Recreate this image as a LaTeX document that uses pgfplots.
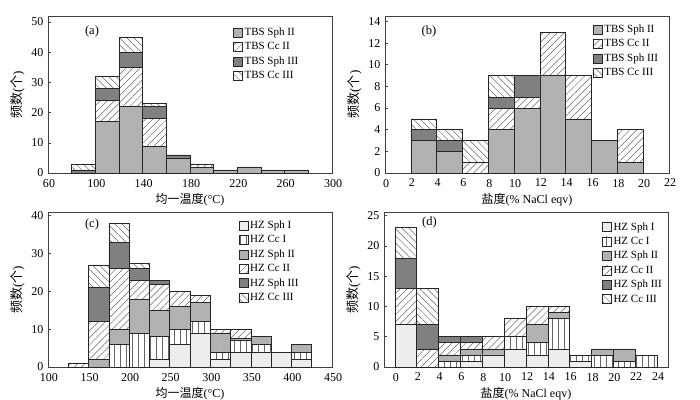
\documentclass[border=0pt]{standalone}
\usepackage{fontspec}
\setmainfont{Liberation Serif}
\newfontfamily\cjk{Noto Sans CJK SC}
\usepackage{pgfplots}
\pgfplotsset{compat=1.18}
\usetikzlibrary{patterns,patterns.meta}
\definecolor{sphI}{gray}{0.93}
\definecolor{sphII}{gray}{0.70}
\definecolor{sphIII}{gray}{0.50}
\definecolor{hatchc}{gray}{0.40}
\tikzset{
  sI/.style={fill=sphI,draw=black!85,line width=0.6pt},
  sII/.style={fill=sphII,draw=black!85,line width=0.6pt},
  sIII/.style={fill=sphIII,draw=black!85,line width=0.6pt},
  cI/.style={draw=black!85,line width=0.6pt,pattern={Lines[angle=90,distance=6pt,line width=0.5pt]},pattern color=hatchc},
  cII/.style={draw=black!85,line width=0.6pt,pattern={Lines[angle=45,distance=5pt,line width=0.5pt]},pattern color=hatchc},
  cIII/.style={draw=black!85,line width=0.6pt,pattern={Lines[angle=-45,distance=5pt,line width=0.5pt]},pattern color=hatchc},
}
\pgfplotsset{
  panel/.style={
    scale only axis, width=284pt, height=157pt,
    ybar stacked, ymin=0, enlargelimits=false,
    axis line style={black!75,line width=0.7pt},
    tick align=inside, tick pos=left,
    major tick length=3pt,
    every tick/.style={black!75,line width=0.6pt},
    tick label style={font=\fontsize{12}{13}\selectfont},
    x tick label style={yshift=-2.5pt,xshift=1pt},
    y tick label style={xshift=-1pt},
    xlabel style={font=\fontsize{12}{13}\selectfont,yshift=1pt},
    ylabel style={font=\fontsize{13}{14}\selectfont},
    /pgf/number format/assume math mode=true,
    legend cell align=left,
    legend style={draw=none,fill=none,anchor=north west,font=\fontsize{11}{12}\selectfont,row sep=1.5pt},
    legend image code/.code={\draw[##1] (0pt,-4.5pt) rectangle (9pt,4.5pt);},
    ylabel={{\cjk 频数}({\cjk 个})},
  }
}
\begin{document}
\begin{tikzpicture}
\path[use as bounding box] (0,0) rectangle (700pt,399pt);
% (a)
\begin{axis}[panel, at={(48pt,226pt)}, anchor=south west,
  bar width=20, xmin=60, xmax=300, xtick={60,100,140,180,220,260,300},
  ymax=52, ytick={0,10,20,30,40,50},
  xlabel={{\cjk 均一温度}(°C)},
  legend style={at={(rel axis cs:0.64,0.95)}}]
\addplot[sII] coordinates {(90,0)(110,17)(130,22)(150,9)(170,5)(190,2)(210,1)(230,2)(250,1)(270,1)};
\addplot[cII] coordinates {(90,0)(110,7)(130,13)(150,9)(170,0)(190,1)(210,0)(230,0)(250,0)(270,0)};
\addplot[sIII] coordinates {(90,1)(110,4)(130,5)(150,4)(170,1)(190,0)(210,0)(230,0)(250,0)(270,0)};
\addplot[cIII] coordinates {(90,2)(110,4)(130,5)(150,1)(170,0)(190,0)(210,0)(230,0)(250,0)(270,0)};
\legend{TBS Sph II,TBS Cc II,TBS Sph III,TBS Cc III}
\node at (rel axis cs:0.155,0.9) {\fontsize{12.5}{13}\selectfont (a)};
\end{axis}
% (b)
\begin{axis}[panel, at={(385pt,226pt)}, anchor=south west,
  bar width=2, xmin=0, xmax=22, xtick={0,2,...,22},
  ymax=14.5, ytick={0,2,...,14},
  xlabel={{\cjk 盐度}(\% NaCl eqv)},
  legend style={at={(rel axis cs:0.72,0.97)}}]
\addplot[sII] coordinates {(3,3)(5,2)(7,0)(9,4)(11,6)(13,9)(15,5)(17,3)(19,1)};
\addplot[cII] coordinates {(3,0)(5,0)(7,1)(9,2)(11,1)(13,4)(15,4)(17,0)(19,3)};
\addplot[sIII] coordinates {(3,1)(5,1)(7,0)(9,1)(11,2)(13,0)(15,0)(17,0)(19,0)};
\addplot[cIII] coordinates {(3,1)(5,1)(7,2)(9,2)(11,0)(13,0)(15,0)(17,0)(19,0)};
\legend{TBS Sph II,TBS Cc II,TBS Sph III,TBS Cc III}
\node at (rel axis cs:0.155,0.9) {\fontsize{12.5}{13}\selectfont (b)};
\end{axis}
% (c)
\begin{axis}[panel, at={(48pt,32pt)}, anchor=south west, height=155pt,
  bar width=25, xmin=100, xmax=450, xtick={100,150,...,450},
  ymax=41, ytick={0,10,20,30,40},
  xlabel={{\cjk 均一温度}(°C)},
  legend style={at={(rel axis cs:0.66,0.97)}}]
\addplot[sI] coordinates {(137.5,0)(162.5,0)(187.5,0)(212.5,0)(237.5,2)(262.5,6)(287.5,9)(312.5,2)(337.5,4)(362.5,4)(387.5,4)(412.5,2)};
\addplot[cI] coordinates {(137.5,0)(162.5,0)(187.5,6)(212.5,9)(237.5,6)(262.5,4)(287.5,3)(312.5,2)(337.5,3)(362.5,2)(387.5,0)(412.5,2)};
\addplot[sII] coordinates {(137.5,0)(162.5,2)(187.5,4)(212.5,9)(237.5,7)(262.5,6)(287.5,5)(312.5,5)(337.5,0.5)(362.5,2)(387.5,0)(412.5,2)};
\addplot[cII] coordinates {(137.5,1)(162.5,10)(187.5,16)(212.5,5)(237.5,7)(262.5,4)(287.5,2)(312.5,1)(337.5,2.5)(362.5,0)(387.5,0)(412.5,0)};
\addplot[sIII] coordinates {(137.5,0)(162.5,9)(187.5,7)(212.5,3)(237.5,1)(262.5,0)(287.5,0)(312.5,0)(337.5,0)(362.5,0)(387.5,0)(412.5,0)};
\addplot[cIII] coordinates {(137.5,0)(162.5,6)(187.5,5)(212.5,1.5)(237.5,0)(262.5,0)(287.5,0)(312.5,0)(337.5,0)(362.5,0)(387.5,0)(412.5,0)};
\legend{HZ Sph I,HZ Cc I,HZ Sph II,HZ Cc II,HZ Sph III,HZ Cc III}
\node at (rel axis cs:0.155,0.92) {\fontsize{12.5}{13}\selectfont (c)};
\end{axis}
% (d)
\begin{axis}[panel, at={(384pt,32pt)}, anchor=south west, height=155pt,
  bar width=2, xmin=-1, xmax=25, xtick={0,2,...,24},
  ymax=25.6, ytick={0,5,...,25},
  xlabel={{\cjk 盐度}(\% NaCl eqv)},
  legend style={at={(rel axis cs:0.756,0.96)}}]
\addplot[sI] coordinates {(1,7)(3,0)(5,0)(7,1)(9,2)(11,3)(13,2)(15,3)(17,1)(19,0)(21,0)(23,0)};
\addplot[cI] coordinates {(1,0)(3,0)(5,1)(7,1)(9,0)(11,2)(13,2)(15,5)(17,1)(19,2)(21,1)(23,2)};
\addplot[sII] coordinates {(1,0)(3,0)(5,1)(7,1)(9,1)(11,0)(13,3)(15,1)(17,0)(19,1)(21,2)(23,0)};
\addplot[cII] coordinates {(1,6)(3,3)(5,2)(7,1)(9,2)(11,3)(13,3)(15,1)(17,0)(19,0)(21,0)(23,0)};
\addplot[sIII] coordinates {(1,5)(3,4)(5,1)(7,1)(9,0)(11,0)(13,0)(15,0)(17,0)(19,0)(21,0)(23,0)};
\addplot[cIII] coordinates {(1,5)(3,6)(5,0)(7,0)(9,0)(11,0)(13,0)(15,0)(17,0)(19,0)(21,0)(23,0)};
\legend{HZ Sph I,HZ Cc I,HZ Sph II,HZ Cc II,HZ Sph III,HZ Cc III}
\node at (rel axis cs:0.16,0.935) {\fontsize{12.5}{13}\selectfont (d)};
\end{axis}
\end{tikzpicture}
\end{document}
